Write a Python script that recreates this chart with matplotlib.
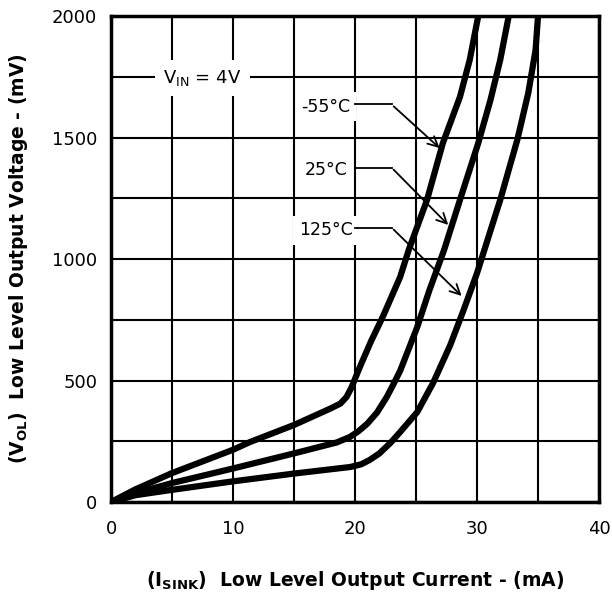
import matplotlib
matplotlib.use("Agg")
import matplotlib.pyplot as plt

# curves (mA, mV)
i_m55 = [0, 2, 5, 10, 11.4, 15, 18.0, 18.8, 19.3, 19.7, 20.4, 21.3, 22.3, 23.7, 24.4, 25.9, 27.2, 28.6, 29.4, 30.1]
v_m55 = [0, 52, 119, 215, 247, 317, 385, 405, 432, 470, 556, 660, 765, 926, 1037, 1243, 1477, 1667, 1819, 2000]

i_25 = [0, 2, 5, 10, 15, 18.5, 19.6, 20.3, 21.0, 21.8, 22.6, 23.1, 23.7, 25.1, 26.1, 27.3, 28.6, 30.1, 31.1, 31.9, 32.6]
v_25 = [0, 36, 78, 138, 200, 245, 268, 292, 322, 368, 432, 480, 540, 720, 872, 1037, 1243, 1477, 1654, 1819, 2000]

i_125 = [0, 2, 5, 10, 15, 19.6, 20.5, 21.2, 22.0, 22.9, 23.7, 25.1, 26.4, 27.8, 28.9, 30.0, 30.6, 31.9, 33.3, 34.2, 34.8, 35.0]
v_125 = [0, 28, 50, 85, 117, 144, 155, 173, 200, 243, 288, 370, 490, 645, 790, 942, 1037, 1243, 1490, 1683, 1860, 2000]

curves = [(i_m55, v_m55), (i_25, v_25), (i_125, v_125)]

temp_labels = ["-55°C", "25°C", "125°C"]
label_y = [1626, 1366, 1119]
arrow_tip = [(27.1, 1449), (27.8, 1132), (28.9, 840)]

fig = plt.figure(figsize=(6.12, 5.95), dpi=100)
ax = fig.add_axes([0.1814, 0.1563, 0.7974, 0.8168])

for x, y in curves:
    ax.plot(x, y, color="black", lw=4.5, solid_capstyle="round", solid_joinstyle="round", zorder=3)

ax.set_xlim(0, 40)
ax.set_ylim(0, 2000)
ax.set_xticks([0, 10, 20, 30, 40])
ax.set_xticks(range(5, 40, 10), minor=True)
ax.set_yticks([0, 500, 1000, 1500, 2000])
ax.set_yticks([250, 750, 1250, 1750], minor=True)
ax.grid(True, which="both", color="black", lw=1.5)
ax.set_axisbelow(True)
ax.tick_params(which="both", length=0, labelsize=13)
ax.tick_params(axis="x", pad=13)
ax.tick_params(axis="y", pad=10)
for s in ax.spines.values():
    s.set_linewidth(2.5)

ax.set_xlabel(r"$\mathbf{(I_{SINK})}$  Low Level Output Current - (mA)",
              fontsize=13.5, fontweight="bold", labelpad=22)
ax.set_ylabel(r"$\mathbf{(V_{OL})}$  Low Level Output Voltage - (mV)",
              fontsize=13.5, fontweight="bold", labelpad=16)

ax.text(7.5, 1745, r"V$_{\rm IN}$ = 4V", fontsize=13, ha="center", va="center", zorder=4,
        bbox=dict(facecolor="white", edgecolor="none", pad=6))

for lab, ly, tip in zip(temp_labels, label_y, arrow_tip):
    ax.text(17.6, ly, lab, fontsize=12.5, ha="center", va="center", zorder=4,
            bbox=dict(facecolor="white", edgecolor="none", pad=4))
    ax.plot([20.0, 23.0], [ly + 10, ly + 10], color="black", lw=1.3, zorder=4)
    ax.annotate("", xy=tip, xytext=(23.0, ly + 10),
                arrowprops=dict(arrowstyle="->", color="black", lw=1.3, mutation_scale=18),
                zorder=4)

fig.savefig("out.png", dpi=100)
